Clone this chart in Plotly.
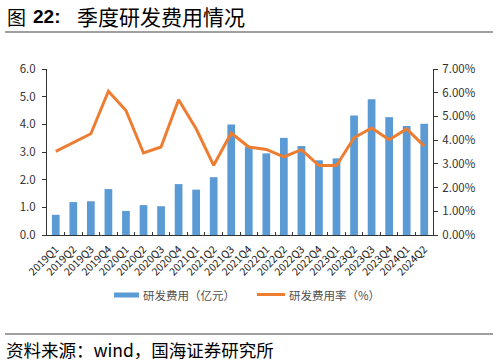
import plotly.graph_objects as go

categories = ["2019Q1","2019Q2","2019Q3","2019Q4","2020Q1","2020Q2","2020Q3","2020Q4",
              "2021Q1","2021Q2","2021Q3","2021Q4","2022Q1","2022Q2","2022Q3","2022Q4",
              "2023Q1","2023Q2","2023Q3","2023Q4","2024Q1","2024Q2"]
rd_expense = [0.73,1.19,1.22,1.66,0.87,1.08,1.04,1.84,1.64,2.09,3.99,3.19,
              2.95,3.51,3.22,2.70,2.77,4.32,4.91,4.26,3.94,4.02]
rd_ratio = [3.53,3.89,4.27,6.06,5.25,3.46,3.71,5.70,4.48,2.94,4.30,3.71,
            3.61,3.29,3.60,2.93,2.93,4.10,4.51,4.02,4.47,3.75]
left_ticks = [0,1,2,3,4,5,6]
right_ticks = [0,1,2,3,4,5,6,7]
series_names = ["研发费用（亿元）", "研发费用率（%）"]
title_prefix = "图"
title_num = "22:"
title_body = "季度研发费用情况"
source_text = "资料来源：wind，国海证券研究所"

W, H = 498, 362
L, R, T, B = 47, 65, 69, 127
pw, ph = W - L - R, H - T - B

def px_x(x):
    return (x - L) / pw

def px_y(y):
    return (H - B - y) / ph

font = "Noto Sans CJK SC, Noto Sans, sans-serif"
blue = "#5B9BD5"
orange = "#ED7D31"
axis_c = "#333333"

fig = go.Figure()
fig.add_trace(go.Bar(x=categories, y=rd_expense, name=series_names[0],
                     marker=dict(color=blue, line=dict(width=0)), yaxis="y"))
fig.add_trace(go.Scatter(x=categories, y=rd_ratio, name=series_names[1], mode="lines",
                         line=dict(color=orange, width=3), yaxis="y2"))

fig.update_layout(
    width=W, height=H,
    margin=dict(l=L, r=R, t=T, b=B, autoexpand=False),
    paper_bgcolor="white", plot_bgcolor="white",
    font=dict(family=font, size=10, color=axis_c),
    bargap=0.56,
    showlegend=False,
    xaxis=dict(type="category", tickangle=-45, showline=True, linecolor=axis_c, linewidth=1,
               ticks="inside", tickson="boundaries", ticklen=3, tickcolor=axis_c,
               showgrid=False, ticklabelstandoff=3, tickfont=dict(size=10.5, color="#222222")),
    yaxis=dict(range=[0, 6], tickvals=left_ticks, ticktext=[f"{v:.1f}" for v in left_ticks],
               showline=True, linecolor=axis_c, linewidth=1, ticks="outside", ticklen=4,
               tickcolor=axis_c, showgrid=False, zeroline=False, ticklabelstandoff=4,
               tickfont=dict(size=11.5, color=axis_c)),
    yaxis2=dict(range=[0, 7], overlaying="y", side="right",
                tickvals=right_ticks, ticktext=[f"{v:.2f}%" for v in right_ticks],
                showline=True, linecolor=axis_c, linewidth=1, ticks="outside", ticklen=4,
                tickcolor=axis_c, showgrid=False, zeroline=False, ticklabelstandoff=2,
                tickfont=dict(size=11.5, color=axis_c)),
)

# custom legend
fig.add_shape(type="rect", xref="paper", yref="paper", x0=px_x(114), x1=px_x(139),
              y0=px_y(297.5), y1=px_y(292.5), fillcolor=blue, line=dict(width=0))
fig.add_annotation(text=series_names[0], xref="paper", yref="paper",
                   x=px_x(141), y=px_y(295), xanchor="left", yanchor="middle", showarrow=False,
                   font=dict(size=11.5, color="#505050", family=font))
fig.add_shape(type="line", xref="paper", yref="paper", x0=px_x(257), x1=px_x(285),
              y0=px_y(294.5), y1=px_y(294.5), line=dict(color=orange, width=3))
fig.add_annotation(text=series_names[1], xref="paper", yref="paper",
                   x=px_x(287), y=px_y(295), xanchor="left", yanchor="middle", showarrow=False,
                   font=dict(size=11.5, color="#505050", family=font))

# title pieces
fig.add_annotation(text=title_prefix, xref="paper", yref="paper",
                   x=px_x(5), y=px_y(16), xanchor="left", yanchor="middle", showarrow=False,
                   font=dict(size=19, color="#000000", family=font))
fig.add_annotation(text="<b>" + title_num + "</b>", xref="paper", yref="paper",
                   x=px_x(31), y=px_y(16), xanchor="left", yanchor="middle", showarrow=False,
                   font=dict(size=19, color="#000000", family="Liberation Sans, Arial, sans-serif"))
fig.add_annotation(text=title_body, xref="paper", yref="paper",
                   x=px_x(75), y=px_y(16), xanchor="left", yanchor="middle", showarrow=False,
                   font=dict(size=21, color="#000000", family=font))
fig.add_annotation(text=source_text, xref="paper", yref="paper",
                   x=px_x(4), y=px_y(349), xanchor="left", yanchor="middle", showarrow=False,
                   font=dict(size=17.5, color="#000000", family=font))
fig.add_shape(type="line", xref="paper", yref="paper", x0=px_x(5), x1=px_x(493),
              y0=px_y(32), y1=px_y(32), line=dict(color="#808080", width=1.5))
fig.add_shape(type="line", xref="paper", yref="paper", x0=px_x(5), x1=px_x(493),
              y0=px_y(334), y1=px_y(334), line=dict(color="#808080", width=1.5))

fig.write_html("out.html", config={"displayModeBar": False},
               post_script="document.body.style.margin='0';document.body.style.overflow='hidden';")
